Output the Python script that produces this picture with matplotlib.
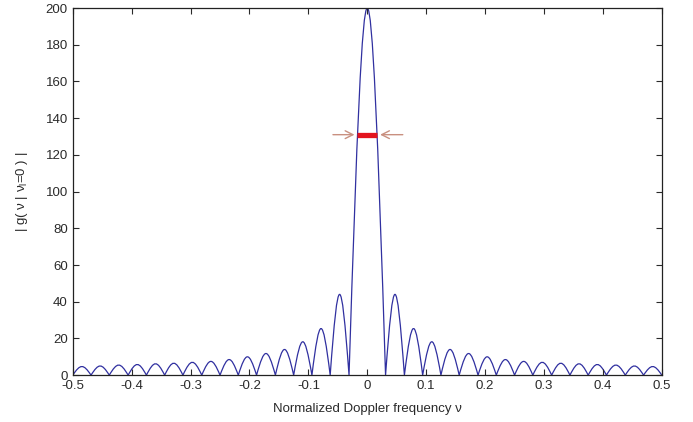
import numpy as np
import matplotlib
matplotlib.use("Agg")
import matplotlib.pyplot as plt
from matplotlib.path import Path
from matplotlib.patches import PathPatch

plt.rcParams["font.family"] = ["Liberation Sans", "DejaVu Sans"]

#  DATA
# zero crossings of the response, left to right
nulls = [-0.5, -0.469, -0.438, -0.406, -0.375, -0.344, -0.313, -0.281, -0.25,
         -0.219, -0.188, -0.156, -0.125, -0.094, -0.063, -0.031,
         0.031, 0.063, 0.094, 0.125, 0.156, 0.188, 0.219, 0.25, 0.281,
         0.313, 0.344, 0.375, 0.406, 0.438, 0.469, 0.5]
# height of every lobe between two nulls
side_right = [44, 25.4, 18.2, 14, 11.8, 10, 8.5, 7.5, 7, 6.5, 6.2, 5.8, 5.5, 5, 4.7]
side_left = side_right[::-1]
main_peak = 200
lobe_peaks = side_left + [main_peak] + side_right

# half power width marker
marker_level = 131
marker_left = -0.017
marker_right = 0.017
arrow_left_start = -0.063
arrow_right_start = 0.065

xticks = [-0.5, -0.4, -0.3, -0.2, -0.1, 0, 0.1, 0.2, 0.3, 0.4, 0.5]
xtick_labels = ["-0.5", "-0.4", "-0.3", "-0.2", "-0.1", "0", "0.1", "0.2", "0.3", "0.4", "0.5"]
yticks = [0, 20, 40, 60, 80, 100, 120, 140, 160, 180, 200]

#  BUILD THE CURVE: one arch per lobe, drawn as a cubic bezier
verts = [(nulls[0], 0)]
codes = [Path.MOVETO]
k = 4 / (3 * np.pi)
for x0, x1, h in zip(nulls[:-1], nulls[1:], lobe_peaks):
    w = x1 - x0
    verts += [(x0 + k * w, 4 * h / 3), (x1 - k * w, 4 * h / 3), (x1, 0)]
    codes += [Path.CURVE4, Path.CURVE4, Path.CURVE4]

#  PLOT
fig = plt.figure(figsize=(6.93, 4.22), dpi=100)
ax = fig.add_axes([0.105, 0.111, 0.85, 0.87])

ax.add_patch(PathPatch(Path(verts, codes), fill=False, edgecolor="#3030a0", linewidth=0.9))

ax.plot([marker_left, marker_right], [marker_level, marker_level], color="#e3141e",
        linewidth=3.8, solid_capstyle="butt", zorder=3)
arrow_style = dict(arrowstyle="->", color="#c99080", linewidth=1.0, mutation_scale=14)
ax.annotate("", xy=(marker_left, marker_level), xytext=(arrow_left_start, marker_level),
            arrowprops=arrow_style)
ax.annotate("", xy=(marker_right, marker_level), xytext=(arrow_right_start, marker_level),
            arrowprops=arrow_style)

ax.set_xlim(-0.5, 0.5)
ax.set_ylim(0, 200)
ax.set_xticks(xticks)
ax.set_xticklabels(xtick_labels)
ax.set_yticks(yticks)
ax.tick_params(direction="in", top=True, right=True, labelsize=9.5, length=4, colors="#2a2a2a")
for s in ax.spines.values():
    s.set_color("#222222")
    s.set_linewidth(0.9)

ax.set_xlabel("Normalized Doppler frequency ν", fontsize=9.5, color="#2a2a2a", labelpad=8)
ax.set_ylabel("| g( ν | ν$_\\mathregular{l}$=0 ) |", fontsize=9.5, color="#2a2a2a", labelpad=11)

plt.savefig("out.png", dpi=100)
